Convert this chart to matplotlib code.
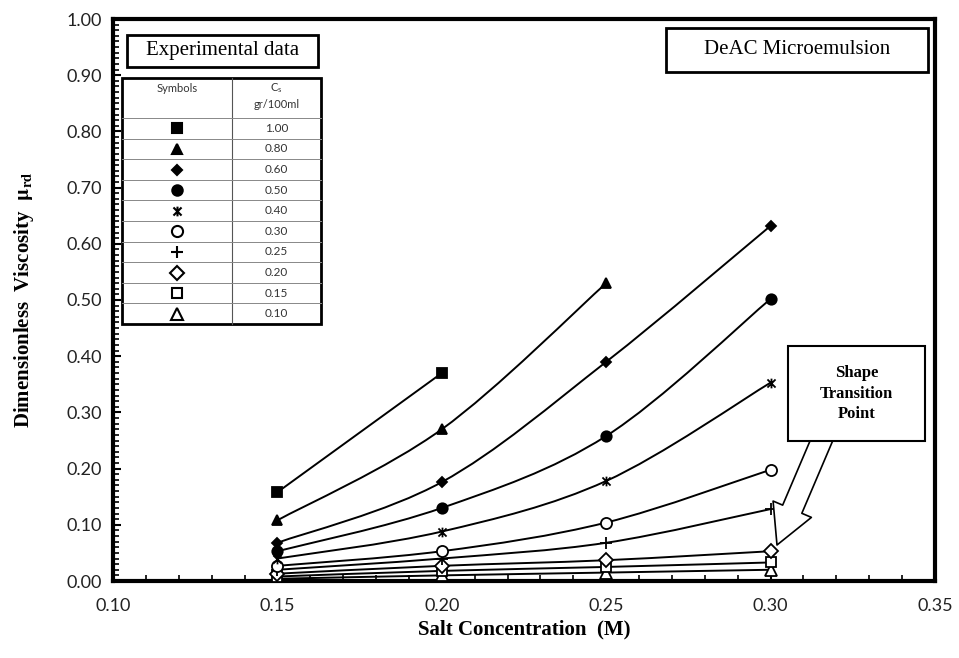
import numpy as np
import matplotlib
matplotlib.use("Agg")
import matplotlib.pyplot as plt
from matplotlib.path import Path
from matplotlib.patches import PathPatch, Rectangle, FancyArrowPatch, ArrowStyle
from matplotlib.lines import Line2D

# salt concentration (M)
salt = [0.15, 0.20, 0.25, 0.30]

# surfactant concentration Cs (gr/100ml) -> dimensionless viscosity
cs_labels = ["1.00", "0.80", "0.60", "0.50", "0.40", "0.30", "0.25", "0.20", "0.15", "0.10"]
mu_100 = [0.158, 0.370]
mu_080 = [0.108, 0.270, 0.530]
mu_060 = [0.068, 0.176, 0.390, 0.632]
mu_050 = [0.053, 0.130, 0.258, 0.502]
mu_040 = [0.040, 0.088, 0.178, 0.353]
mu_030 = [0.027, 0.053, 0.104, 0.198]
mu_025 = [0.020, 0.040, 0.068, 0.128]
mu_020 = [0.013, 0.027, 0.037, 0.053]
mu_015 = [0.008, 0.018, 0.025, 0.033]
mu_010 = [0.004, 0.010, 0.015, 0.020]
series = [mu_100, mu_080, mu_060, mu_050, mu_040, mu_030, mu_025, mu_020, mu_015, mu_010]

# asterisk-like marker (x with a vertical bar)
star = Path([(-1, -1), (1, 1), (-1, 1), (1, -1), (0, -1.2), (0, 1.2)],
            [Path.MOVETO, Path.LINETO, Path.MOVETO, Path.LINETO, Path.MOVETO, Path.LINETO])

# marker, face colour, size
styles = [
    ("s", "black", 7),
    ("^", "black", 7.5),
    ("D", "black", 5.5),
    ("o", "black", 7.5),
    (star, "black", 7),
    ("o", "white", 8),
    ("+", "black", 9),
    ("D", "white", 7),
    ("s", "white", 7),
    ("^", "white", 8),
]


def smooth_path(xs, ys):
    # Excel-style smoothed line (Catmull-Rom as cubic Bezier)
    pts = np.column_stack([xs, ys])
    n = len(pts)
    verts = [pts[0]]
    codes = [Path.MOVETO]
    for i in range(n - 1):
        p0 = pts[max(i - 1, 0)]
        p1 = pts[i]
        p2 = pts[i + 1]
        p3 = pts[min(i + 2, n - 1)]
        verts += [p1 + (p2 - p0) / 6, p2 - (p3 - p1) / 6, p2]
        codes += [Path.CURVE4] * 3
    return Path(verts, codes)


plt.rcParams["mathtext.fontset"] = "stix"
fig = plt.figure(figsize=(9.59, 6.58), dpi=100)
ax = fig.add_axes([113 / 959, 77 / 658, 822 / 959, 562 / 658])

for ys, (mk, fc, ms) in zip(series[::-1], styles[::-1]):
    xs = salt[:len(ys)]
    ax.add_patch(PathPatch(smooth_path(xs, ys), fill=False, ec="black", lw=1.4, zorder=2))
    ax.plot(xs, ys, ls="none", marker=mk, ms=ms, mfc=fc, mec="black", mew=1.3, zorder=3)

ax.set_xlim(0.10, 0.35)
ax.set_ylim(0.0, 1.0)
ax.set_xticks(np.arange(0.10, 0.351, 0.05))
ax.set_yticks(np.arange(0.0, 1.001, 0.1))
ax.set_xticks(np.arange(0.10, 0.351, 0.01), minor=True)
ax.set_yticks(np.arange(0.0, 1.001, 0.01), minor=True)
ax.xaxis.set_major_formatter(matplotlib.ticker.FormatStrFormatter("%.2f"))
ax.yaxis.set_major_formatter(matplotlib.ticker.FormatStrFormatter("%.2f"))
ax.tick_params(which="major", direction="in", length=6, width=1.5, labelsize=13,
               labelcolor="#222222", pad=8)
ax.tick_params(which="minor", direction="in", length=4, width=1.2)
ax.tick_params(axis="x", pad=12)
for lab in ax.get_xticklabels() + ax.get_yticklabels():
    lab.set_family("Lato")
for sp in ax.spines.values():
    sp.set_linewidth(3)

ax.set_xlabel("Salt Concentration  (M)", family="Liberation Serif", fontweight="bold",
              fontsize=15, labelpad=4)
ax.set_ylabel(r"Dimensionless  Viscosity  $\mathbf{\mu_{rd}}$", family="Liberation Serif",
              fontweight="bold", fontsize=15, labelpad=22)


def fx(px):
    return (px - 113) / 822


def fy(py):
    return (581 - py) / 562


T = ax.transAxes

# title boxes
for (x0, x1, y0, y1, txt) in [(127, 318, 67, 35, "Experimental data"),
                              (666, 928, 72, 28, "DeAC Microemulsion")]:
    ax.add_patch(Rectangle((fx(x0), fy(y0)), fx(x1) - fx(x0), fy(y1) - fy(y0), transform=T,
                           fc="white", ec="black", lw=2, zorder=5, clip_on=False))
    ax.text((fx(x0) + fx(x1)) / 2, (fy(y0) + fy(y1)) / 2, txt, transform=T, ha="center",
            va="center", family="Liberation Serif", fontsize=15, zorder=6)

# symbol table
tx0, tx1, txd = fx(122), fx(321), fx(232)
ty_top, ty_hdr, ty_bot = fy(78), fy(118), fy(324)
rh = (ty_hdr - ty_bot) / len(cs_labels)
ax.add_patch(Rectangle((tx0, ty_bot), tx1 - tx0, ty_top - ty_bot, transform=T,
                       fc="white", ec="black", lw=2, zorder=5, clip_on=False))
ax.add_line(Line2D([txd, txd], [ty_bot, ty_top], transform=T, color="#555555", lw=0.8, zorder=6))
for i in range(len(cs_labels)):
    yl = ty_hdr - i * rh
    ax.add_line(Line2D([tx0, tx1], [yl, yl], transform=T, color="#888888", lw=0.7, zorder=6))
ax.text((tx0 + txd) / 2, ty_top - 0.018, "Symbols", transform=T, ha="center", va="center",
        family="Lato", fontsize=8, color="#333333", zorder=7)
ax.text((txd + tx1) / 2, ty_top - 0.018, r"C$_\mathregular{s}$", transform=T, ha="center",
        va="center", family="Lato", fontsize=8, color="#333333", zorder=7)
ax.text((txd + tx1) / 2, ty_top - 0.048, "gr/100ml", transform=T, ha="center", va="center",
        family="Lato", fontsize=8, color="#333333", zorder=7)
for i, (lab, (mk, fc, ms)) in enumerate(zip(cs_labels, styles)):
    yc = ty_hdr - (i + 0.5) * rh
    ax.plot([(tx0 + txd) / 2], [yc], transform=T, ls="none", marker=mk, ms=ms, mfc=fc,
            mec="black", mew=1.5, zorder=7, clip_on=False)
    ax.text((txd + tx1) / 2, yc, lab, transform=T, ha="center", va="center", family="Lato",
            fontsize=8.5, color="#333333", zorder=7)

# shape transition annotation
ax.add_patch(FancyArrowPatch((fx(826), fy(430)), (fx(777), fy(545)), transform=T,
                             arrowstyle=ArrowStyle.Simple(head_length=2.8, head_width=3.0,
                                                          tail_width=1.5),
                             mutation_scale=10, fc="white", ec="black", lw=1.2,
                             shrinkA=0, shrinkB=0, zorder=5))
ax.add_patch(Rectangle((fx(788), fy(441)), fx(925) - fx(788), fy(346) - fy(441), transform=T,
                       fc="white", ec="black", lw=1.5, zorder=6))
ax.text((fx(788) + fx(925)) / 2, (fy(441) + fy(346)) / 2, "Shape\nTransition\nPoint",
        transform=T, ha="center", va="center", family="Liberation Serif", fontweight="bold",
        fontsize=12, linespacing=1.35, zorder=7)

fig.savefig("out.png", dpi=100)
